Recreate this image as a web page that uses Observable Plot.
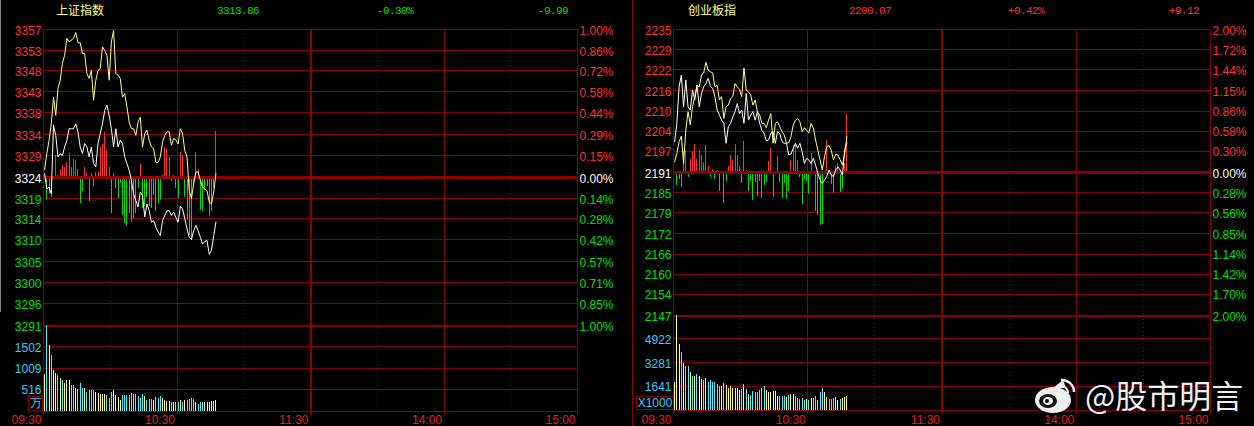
<!DOCTYPE html>
<html><head><meta charset="utf-8">
<script src="https://cdn.jsdelivr.net/npm/d3@7"></script>
<script src="https://cdn.jsdelivr.net/npm/@observablehq/plot@0.6"></script>
<style>
html,body{margin:0;padding:0;background:#000;width:1254px;height:426px;overflow:hidden}
#c{position:relative;width:1254px;height:426px;background:#000;overflow:hidden}
.h{position:absolute;top:4px;white-space:pre;font:11px/14px "Liberation Mono",monospace;letter-spacing:-.6px}
.n{font:12px/14px "Noto Sans CJK SC",sans-serif;color:#ffff80;top:3px;letter-spacing:0}
.box{position:absolute;border:1px solid #8b0000;color:#33ccff;font:12px/13px "Liberation Sans",Arial,sans-serif;text-align:center;box-sizing:border-box}
#wm{position:absolute;left:1085px;top:374px;font:32px/40px "Noto Sans CJK SC",sans-serif;color:#eee;white-space:pre}
</style></head><body><div id="c"></div>
<script>
// ---------- Shanghai composite (上证指数)
const shPrev = 3323.85;
const shPct = [1.00,0.86,0.72,0.58,0.44,0.29,0.15,0,-0.14,-0.28,-0.42,-0.57,-0.71,-0.85,-1.00];
const shPrice = ["3357","3353","3348","3343","3338","3334","3329","3324","3319","3314","3310","3305","3300","3296","3291"];
const shYellow = [3325.6,3329.2,3332.2,3335.9,3341.9,3337.8,3343.8,3345.7,3349.5,3351.3,3355.1,3354.3,3354.7,3355.1,3356.4,3354.1,3354.1,3351.7,3351.7,3347.2,3346.1,3347.9,3341.2,3345.7,3347.9,3348.3,3353.2,3352.4,3351.3,3345.7,3354.3,3356.9,3347.2,3346.8,3346.1,3341.9,3342.7,3339.7,3336.3,3334.8,3334.8,3333.3,3336.3,3337.4,3330.7,3333.7,3334.5,3332.2,3330.7,3330.3,3327.3,3327.2,3328.5,3331.8,3333.3,3334.1,3334.1,3331.1,3332.6,3332.3,3331.4,3334.8,3333.7,3329.9,3328.5,3320.9,3319.1,3322.5,3325.1,3325.1,3323.2,3321.7,3321.3,3320.9,3318.3,3317.9,3320.6,3324.7];
const shWhite = [3324.7,3321.3,3321.7,3320.2,3335.6,3333.3,3328.5,3329.2,3328.8,3330.7,3332.2,3334.8,3334.8,3334.8,3335.9,3334.1,3330.7,3329.2,3331.5,3330.7,3328.5,3330.7,3327,3326.2,3331.5,3333.7,3335.9,3338.9,3340.1,3337.8,3334.8,3330.7,3334.8,3330.7,3332.2,3331.5,3328.5,3327,3325.5,3323.2,3320.2,3318.7,3317.2,3320.6,3319.8,3315,3317.9,3316.4,3313.8,3314.2,3312.7,3311.6,3310.8,3314.2,3315.3,3316.4,3316.4,3315.3,3316.1,3314.9,3313.8,3317.4,3316.8,3314.6,3312.3,3310.4,3309.9,3311.9,3313.1,3311.9,3310.4,3308.9,3309.5,3309.7,3306.6,3307.5,3310.8,3313.86];
const shFlow = [0,-5.1,-3.6,-4.4,0,4.9,0.4,1.9,2.6,2.3,3.4,5.3,2.3,4.1,3.8,1.9,-5.9,-3.2,2.3,0.8,-5.5,0.8,-2.1,1.1,1.1,6.8,7.5,10.1,6,2.3,-8,0.8,-2.5,-4.7,-1.4,-8.5,-10.4,-11.1,-8.1,-10,-9.2,-8.1,-2.5,3,-7,-6.6,-4.4,-6.6,-7,-4,-7.7,-5.9,-5.1,0.4,6.8,6.4,4.5,-1,0.4,-2.5,-4.7,5.6,4.9,-4.4,-9.6,-13,-14.1,-2.1,5.6,1.9,-7.4,-7.7,-2.9,-2.1,-8.7,-7.7,-2.5,10.3];
const shVol = [852,2002,1533,1298,946,876,829,774,727,657,719,719,594,594,540,516,641,524,540,438,500,477,477,438,414,407,407,407,383,313,438,485,383,321,266,383,383,383,383,422,407,407,344,305,407,360,266,289,289,266,321,305,360,305,250,235,235,203,203,203,203,266,203,250,250,289,313,282,203,172,203,219,203,203,219,227,242,266];
const shSide = ("UDUDUUDUDU"+"UUDDUDDDUD"+"DDDUUUUUDD"+"DUUUUDDDDD"+"DDDDDUDDDU"+"DDDUUUUDUD"+"DUDUDDDDUD"+"DDUUUUUU").split("");
const shVolTicks = [516,1009,1502];
// ---------- ChiNext (创业板指)
const cyPrev = 2190.95;
const cyPct = [2.00,1.72,1.44,1.15,0.86,0.58,0.30,0,-0.28,-0.56,-0.85,-1.14,-1.42,-1.70,-2.00];
const cyPrice = ["2235","2229","2222","2216","2210","2204","2197","2191","2185","2179","2172","2166","2160","2154","2147"];
const cyYellow = [2194.2,2196.8,2200.4,2202.1,2193.7,2203.9,2209.6,2205.5,2211.1,2214.2,2217.7,2217.2,2220.8,2221.5,2224.7,2222.3,2221.8,2221.5,2217.2,2217.7,2213.2,2214.2,2207.5,2211.1,2211.6,2213.6,2214.2,2218.2,2217.2,2216.4,2214.2,2223,2216.2,2215.7,2214.7,2211.6,2213.2,2209.6,2208.6,2206,2206,2204.7,2207,2209,2199.9,2206,2206.5,2205,2203.5,2202.4,2199.9,2200.1,2201.9,2205.5,2207,2207.5,2206.5,2203.5,2204.7,2203.9,2203.1,2206,2204.5,2200.9,2197.8,2194.8,2191.7,2195.8,2198.9,2199.2,2197.8,2194.8,2196.5,2196.3,2194.8,2193.2,2196.8,2201.9];
const cyWhite = [2200.4,2206,2217.2,2220.8,2211.1,2219.3,2211.1,2210.1,2216.2,2213.2,2217.7,2211.1,2215.2,2217.2,2218.2,2219.8,2217.4,2216.7,2214.2,2210.1,2208.6,2207,2206,2199.9,2205,2206,2208,2209.6,2212.1,2209,2210.1,2206,2215.2,2207,2208.6,2209.6,2207,2209.6,2206,2203.9,2202.9,2200.6,2200.9,2202.9,2203.5,2199.9,2203.5,2202.9,2200.4,2199.9,2199.9,2196.3,2196.6,2198.4,2199.9,2198.4,2199.9,2197.3,2193.7,2195.3,2194.8,2193.7,2195.3,2193.2,2190.7,2188.7,2187.6,2188.7,2189.7,2191.7,2190.2,2189.7,2191.7,2192.7,2191.7,2190.2,2197.8,2200.07];
const cyFlow = [0,-4.1,-2.2,-4.7,6.3,6.8,-1.6,4,6.3,8.7,4,6.6,5.3,3,8.2,1.9,-1.6,0.9,-2.2,0.7,-5.7,0,-9.6,-2.7,1.9,5.3,3.8,8.7,5.3,1.7,-3.5,9.6,0.5,-5.8,-2.8,-8.6,-3.1,-7.4,-2.8,-8.1,-4.1,-3.1,3.3,7.4,-7.7,0,5,-3.1,-8.1,-3.3,-8.4,-5.8,3.8,8.4,8.9,3.8,-1.4,-9.9,-2.2,-2.8,-6.8,5.8,0,-11.9,-13.3,-16.3,-16,0,9.9,0.7,-3.8,-6.5,1.7,2.8,-6.1,-4.8,2.8,17.9];
const cyVol = [1937,6518,4535,3988,3259,2985,3031,2621,2347,2302,2484,2347,2142,2028,2211,1892,2074,1937,1914,1800,1641,1641,1846,1732,1481,1618,1527,1481,1481,1345,1459,1800,1459,1117,1048,1322,1253,1208,1345,1527,1664,1390,1208,1208,1276,1276,934,980,934,980,889,1048,1117,1117,934,798,775,843,706,752,661,843,820,980,706,1208,1527,1253,912,775,775,798,912,706,752,798,912,980];
const cySide = ("UUUDUDDUDU"+"DUUDUDDDDD"+"DUDUUUUUUU"+"DUDUDDDDDD"+"DUUUUUUDDD"+"UDUUDDDDDU"+"DUDDDDDUUD"+"DDUUDUUU").split("");
const cyVolTicks = [1641,3281,4922];
// ---------- shared time axis (trading minutes)
const timeMin = [0,60,120,180,240];
const timeLab = ["09:30","10:30","11:30","14:00","15:00"];
const dotMin = [30,90,150,210];

const RED="#ff3333",GRN="#00e000",GRID="#8b0000",YEL="#ffff88",CYAN="#33ccff";
const FONT='"Liberation Sans",Arial,sans-serif';
const CR={shapeRendering:"crispEdges"};
const c=document.getElementById("c");
function place(svg,left,top){svg.style.position="absolute";svg.style.overflow="visible";svg.style.left=left+"px";svg.style.top=top+"px";c.appendChild(svg);}

function pricePanel(o){
  const pts=o.white.map((w,i)=>({m:i+0.5,w,yl:o.yellow[i],f:o.flow[i]}));
  const grid=o.pct.map(p=>o.prev*(1+p/100));
  const span=o.prev*o.pct[0]/100;
  const svg=Plot.plot({width:o.w,height:o.h,marginLeft:o.ml,marginRight:o.mr,marginTop:29,marginBottom:4,
    style:{background:"transparent",fontFamily:FONT,fontSize:"12px",overflow:"visible"},
    x:{domain:[0,240],axis:null},y:{domain:[o.prev-span,o.prev+span],axis:null},
    marks:[
      Plot.ruleY(grid.filter(v=>v!==o.prev&&v!==grid[14]),{stroke:GRID,strokeWidth:1,...CR}),
      Plot.ruleX(dotMin,{stroke:"#a00000",strokeDasharray:"1,3",...CR}),
      Plot.ruleX([60,180,0,240],{stroke:GRID,...CR}),
      Plot.ruleX([120],{stroke:GRID,strokeWidth:2,...CR}),
      Plot.ruleX(pts,{filter:d=>d.f>0,x:"m",y1:o.prev,y2:d=>o.prev+d.f,stroke:RED,strokeWidth:1,...CR}),
      Plot.ruleX(pts,{filter:d=>d.f<0,x:"m",y1:o.prev,y2:d=>o.prev+d.f,stroke:GRN,strokeWidth:1,...CR}),
      Plot.ruleY([o.prev],{stroke:"#8b0000",strokeWidth:3,...CR}),
      Plot.ruleY([grid[14]],{stroke:GRID,strokeWidth:2,...CR}),
      Plot.line(pts,{x:"m",y:"w",stroke:"#ffffff",strokeWidth:1}),
      Plot.line(pts,{x:"m",y:"yl",stroke:YEL,strokeWidth:1}),
      Plot.text(grid,{y:d=>d,frameAnchor:"left",textAnchor:"end",dx:-2,dy:1.5,
        text:(d,i)=>o.labels[i],fill:(d,i)=>i<7?RED:i===7?"#ffffff":GRN}),
      Plot.text(grid,{y:d=>d,frameAnchor:"right",textAnchor:"start",dx:2,dy:1.5,
        text:(d,i)=>Math.abs(o.pct[i]).toFixed(2)+"%",fill:(d,i)=>i<7?RED:i===7?"#ffffff":GRN})
    ]});
  place(svg,o.left,0);
}
function volPanel(o){
  const pts=o.vol.map((v,i)=>({m:i+0.5,v,s:o.side[i]}));
  const svg=Plot.plot({width:o.w,height:o.h,marginLeft:o.ml,marginRight:o.mr,marginTop:0,marginBottom:o.mb,
    style:{background:"transparent",fontFamily:FONT,fontSize:"12px",overflow:"visible"},
    x:{domain:[0,240],axis:null},y:{domain:[0,o.top],axis:null},
    marks:[
      Plot.ruleY(o.ticks,{stroke:GRID,...CR}),
      Plot.ruleY([0],{stroke:GRID,...CR}),
      Plot.ruleX(dotMin,{stroke:"#a00000",strokeDasharray:"1,3",...CR}),
      Plot.ruleX(pts,{filter:d=>d.s==="U",x:"m",y1:0,y2:"v",stroke:YEL,strokeWidth:1,...CR}),
      Plot.ruleX(pts,{filter:d=>d.s==="D",x:"m",y1:0,y2:"v",stroke:"#55f0ff",strokeWidth:1,...CR}),
      Plot.tickX([60,180,0,240],{stroke:GRID,insetBottom:-4,...CR}),
      Plot.tickX([120],{stroke:GRID,strokeWidth:2,insetBottom:-4,...CR}),
      Plot.text(o.ticks,{y:d=>d,frameAnchor:"left",textAnchor:"end",dx:-2,dy:1,fill:CYAN,text:d=>String(d)}),
      Plot.text(timeMin,{x:d=>d,frameAnchor:"bottom",lineAnchor:"middle",textAnchor:"end",dx:-2,dy:o.tdy,fill:"#e02020",text:(d,i)=>timeLab[i]})
    ]});
  place(svg,o.left,o.top0);
}
pricePanel({left:0,w:633,h:329,ml:43,mr:56,prev:shPrev,pct:shPct,labels:shPrice,yellow:shYellow,white:shWhite,flow:shFlow});
pricePanel({left:633,w:621,h:319,ml:40,mr:44,prev:cyPrev,pct:cyPct,labels:cyPrice,yellow:cyYellow,white:cyWhite,flow:cyFlow});
volPanel({left:0,top0:325,w:633,h:101,ml:43,mr:56,mb:15,top:2001,vol:shVol,side:shSide,ticks:shVolTicks,tdy:9});
volPanel({left:633,top0:315,w:621,h:111,ml:40,mr:44,mb:16,top:6518,vol:cyVol,side:cySide,ticks:cyVolTicks,tdy:10});

function head(x,txt,col,cls){const d=document.createElement("div");d.className="h "+(cls||"");d.style.left=x+"px";d.textContent=txt;if(col)d.style.color=col;c.appendChild(d);}
head(56,"上证指数",null,"n");head(688,"创业板指",null,"n");
head(217,"3313.86",GRN);head(377,"-0.30%",GRN);head(538,"-9.99",GRN);
head(849,"2200.07",RED);head(1008,"+0.42%",RED);head(1169,"+9.12",RED);
function box(x,y,w,h,t){const d=document.createElement("div");d.className="box";d.style.cssText=`left:${x}px;top:${y}px;width:${w}px;height:${h}px`;d.textContent=t;c.appendChild(d);}
box(28,396,15,15,"万");box(636,396,38,14,"X1000");
// panel divider and left screen edge
const dv=document.createElement("div");dv.style.cssText="position:absolute;left:632px;top:0;width:1px;height:426px;background:#8b0000";c.appendChild(dv);
const ed=document.createElement("div");ed.style.cssText="position:absolute;left:0;top:0;width:1px;height:312px;background:#888";c.appendChild(ed);
// watermark
const wm=document.createElement("div");wm.id="wm";wm.textContent="@股市明言";c.appendChild(wm);
c.insertAdjacentHTML("beforeend",`<svg style="position:absolute;left:1033px;top:374px" width="44" height="40" viewBox="0 0 44 40">
<ellipse cx="20" cy="26" rx="18" ry="13" fill="#eee"/><path d="M20 14 L30 6 L33 14 Z" fill="#eee"/>
<ellipse cx="15" cy="27" rx="9" ry="7" fill="#111"/><ellipse cx="15" cy="27" rx="5" ry="4" fill="#eee"/><circle cx="14" cy="27" r="2" fill="#111"/>
<path d="M28 6 A12 12 0 0 1 41 18" fill="none" stroke="#eee" stroke-width="2.5"/><path d="M28 12 A7 7 0 0 1 35 19" fill="none" stroke="#eee" stroke-width="2"/></svg>`);
</script></body></html>
